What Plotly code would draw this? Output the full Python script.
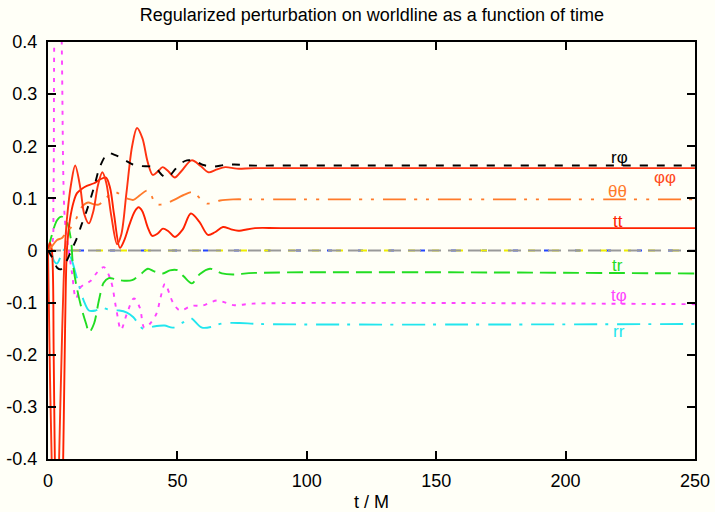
import plotly.graph_objects as go

# ---------------- data ----------------
t_rphi = [0, 1.2, 2.3, 3.5, 5, 7, 9, 11, 13, 15, 18, 20, 23.2, 25.5, 27.8, 30.5, 32.8, 36, 40, 42, 44, 45.5,
          47, 49, 51, 53.7, 57, 60, 64, 68, 72, 78, 90, 250]
v_rphi = [0, -0.01, -0.02, -0.033, -0.036, -0.022, 0, 0.022, 0.05, 0.077, 0.125, 0.16, 0.187, 0.184, 0.179,
          0.171, 0.165, 0.162, 0.161, 0.156, 0.145, 0.14, 0.143, 0.155, 0.166, 0.173, 0.171, 0.164, 0.161,
          0.164, 0.165, 0.163, 0.163, 0.163]

t_phph = [0, 0.8, 1.5, 2.8, 4.2, 5.5, 6.5, 7.3, 9, 10.5, 12.5, 14, 15.8, 17.5, 19.3, 21, 22.5, 24.5, 26.7,
          28.3, 30.3, 32.5, 34.4, 36.5, 38.5, 40.5, 42.5, 44.3, 46.5, 49, 51.5, 55.5, 59, 62, 65, 68.5, 73,
          80, 250]
v_phph = [0, -0.25, -0.42, -0.75, -0.42, -0.15, 0, 0.06, 0.13, 0.163, 0.12, 0.07, 0.052, 0.075, 0.125, 0.15,
          0.13, 0.065, 0.012, 0.03, 0.11, 0.2, 0.235, 0.215, 0.17, 0.145, 0.152, 0.16, 0.152, 0.14, 0.152,
          0.173, 0.162, 0.15, 0.155, 0.16, 0.157, 0.158, 0.158]

t_thth = [0, 1.2, 3.5, 5.4, 7, 8.5, 10.8, 13, 15.5, 17.5, 19.5, 22.4, 25, 27, 29, 31, 33, 35.5, 38.3, 40,
          41.5, 43.5, 45.5, 48.3, 52.2, 56, 58.7, 61.4, 64, 66.5, 71.5, 80, 250]
v_thth = [0, 0.006, 0.02, 0.024, 0.035, 0.042, 0.06, 0.083, 0.092, 0.089, 0.088, 0.1, 0.113, 0.11, 0.103,
          0.099, 0.097, 0.106, 0.115, 0.105, 0.089, 0.088, 0.09, 0.096, 0.106, 0.112, 0.1, 0.09, 0.093,
          0.096, 0.098, 0.098, 0.098]

t_tt = [0, 0.7, 1.5, 2.2, 2.7, 4.2, 5.8, 6.6, 7.3, 8.5, 10, 11.2, 13, 15, 17.8, 20, 22.4, 24, 25.5, 27.8,
        29.5, 31.5, 33.5, 35, 36.5, 38.5, 40.3, 42.5, 44.4, 46.5, 49, 52, 55.2, 58.5, 61.8, 64.5, 67.6, 70.5,
        73.5, 80, 90, 250]
v_tt = [0, 0.015, 0.0, -0.2, -0.42, -0.8, -0.42, -0.15, 0, 0.06, 0.095, 0.11, 0.118, 0.124, 0.129, 0.136,
        0.14, 0.12, 0.07, 0.005, 0.02, 0.05, 0.075, 0.083, 0.075, 0.045, 0.028, 0.033, 0.042, 0.037, 0.026,
        0.04, 0.071, 0.055, 0.03, 0.035, 0.045, 0.041, 0.038, 0.043, 0.043, 0.043]

t_tr = [0, 1.5, 3.5, 5.2, 7, 8.9, 9.5, 10.8, 12.8, 14.7, 15.9, 17.8, 19.7, 21.5, 23.5, 26, 29.4, 32.5, 35.9,
        38.6, 41, 44.4, 47.1, 50.2, 52.5, 55.6, 58.7, 62.6, 67.2, 71.5, 80, 250]
v_tr = [0, 0.03, 0.058, 0.065, 0.058, 0.02, -0.02, -0.063, -0.108, -0.14, -0.157, -0.14, -0.095, -0.062,
        -0.053, -0.055, -0.058, -0.057, -0.045, -0.035, -0.04, -0.044, -0.038, -0.038, -0.05, -0.063, -0.045,
        -0.035, -0.044, -0.046, -0.043, -0.044]

t_tphi = [0, 1.5, 2.1, 2.4, 3.6, 5.3, 6.5, 8, 9.3, 10.8, 12.7, 16.5, 19, 21.6, 24.3, 26.3, 28.2, 30.5, 33.2,
          35.5, 37.2, 39.5, 42, 43.5, 45.2, 48.3, 51, 55.6, 59.5, 65.3, 72, 79, 250]
v_tphi = [0, 0.01, 0.1, 0.4, 0.9, 0.4, 0.06, 0.0, -0.044, -0.092, -0.07, -0.058, -0.042, -0.032, -0.058,
          -0.11, -0.152, -0.121, -0.092, -0.11, -0.148, -0.14, -0.12, -0.09, -0.064, -0.1, -0.115, -0.106,
          -0.106, -0.096, -0.105, -0.102, -0.103]

t_rr = [0, 1.2, 2.3, 3.5, 5, 6.5, 8, 9.3, 11, 13.8, 15.8, 18.5, 21, 24.3, 27.5, 30.5, 33, 36.7, 40.6, 45,
        48.3, 52.2, 54.9, 59.5, 63.5, 67.2, 74, 82, 250]
v_rr = [0, -0.004, -0.02, -0.025, -0.01, 0.003, -0.005, -0.02, -0.05, -0.096, -0.115, -0.115, -0.11, -0.115,
        -0.115, -0.119, -0.128, -0.15, -0.146, -0.144, -0.148, -0.138, -0.129, -0.148, -0.146, -0.14, -0.139,
        -0.141, -0.141]

t_zero = [0, 250]
v_zero = [0, 0]

labels = ["rφ", "φφ", "θθ", "tt", "tr", "tφ", "rr"]
label_t = [221, 238.4, 220.2, 220.2, 219.9, 220.6, 220.6]
label_v = [0.179, 0.140, 0.113, 0.056, -0.029, -0.087, -0.156]
label_colors = ["#000000", "#ff4a22", "#ff7a2a", "#ff2200", "#22dd22", "#ff44ff", "#22e6ee"]

x_ticks = [0, 50, 100, 150, 200, 250]
x_ticktext = ["0", "50", "100", "150", "200", "250"]
y_ticks = [0.4, 0.3, 0.2, 0.1, 0, -0.1, -0.2, -0.3, -0.4]
y_ticktext = ["0.4", "0.3", "0.2", "0.1", "0", "-0.1", "-0.2", "-0.3", "-0.4"]

# ---------------- figure ----------------
fig = go.Figure()
FONT = "Liberation Sans, Arial, sans-serif"

def add(t, v, color, dash, width=1.9, shape="spline"):
    fig.add_trace(go.Scatter(x=t, y=v, mode="lines",
                             line=dict(color=color, dash=dash, width=width, shape=shape,
                                       smoothing=0.9 if shape == "spline" else None),
                             hoverinfo="skip", showlegend=False))

# zero-valued components
add(t_zero, v_zero, "#2244ff", "5px,26px", shape="linear")
add(t_zero, v_zero, "#eeee00", "7px,17px", shape="linear")
add(t_zero, v_zero, "#999999", "13px,7px", shape="linear")

add(t_rr, v_rr, "#22e6ee", "23px,8px,3px,9px")
add(t_tphi, v_tphi, "#ff44ff", "4px,6px")
add(t_tr, v_tr, "#22dd22", "16px,7px")
add(t_tt, v_tt, "#ff2200", "solid")
add(t_thth, v_thth, "#ff7a2a", "23px,8px,3px,9px,3px,9px")
add(t_phph, v_phph, "#ff3311", "solid")
add(t_rphi, v_rphi, "#000000", "8px,9px")

for txt, tx, vy, c in zip(labels, label_t, label_v, label_colors):
    fig.add_annotation(x=tx, y=vy, text=txt, showarrow=False,
                       font=dict(family=FONT, size=17, color=c))

fig.update_layout(
    width=715, height=512,
    margin=dict(l=48, r=20, t=42, b=53),
    paper_bgcolor="#fffff7", plot_bgcolor="#fffff7",
    font=dict(family=FONT, size=18, color="#000000"),
    title=dict(text="Regularized perturbation on worldline as a function of time",
               x=0.52, xanchor="center", y=0.972, yanchor="middle",
               font=dict(family=FONT, size=18, color="#000000")),
    showlegend=False,
)
fig.update_xaxes(range=[0, 250], tickvals=x_ticks, ticktext=x_ticktext, automargin=False,
                 showline=True, linecolor="#000000", linewidth=2, mirror="allticks",
                 ticks="inside", ticklen=8, tickwidth=1.5, tickcolor="#000000",
                 showgrid=False, zeroline=False, ticklabelstandoff=4,
                 tickfont=dict(family=FONT, size=18),
                 title=dict(text="t / M", standoff=6, font=dict(family=FONT, size=18)))
fig.update_yaxes(range=[-0.4, 0.4], tickvals=y_ticks, ticktext=y_ticktext, automargin=False,
                 showline=True, linecolor="#000000", linewidth=2, mirror="allticks",
                 ticks="inside", ticklen=8, tickwidth=1.5, tickcolor="#000000",
                 showgrid=False, zeroline=False, ticklabelstandoff=5,
                 tickfont=dict(family=FONT, size=18))

fig.write_html("out.html")
